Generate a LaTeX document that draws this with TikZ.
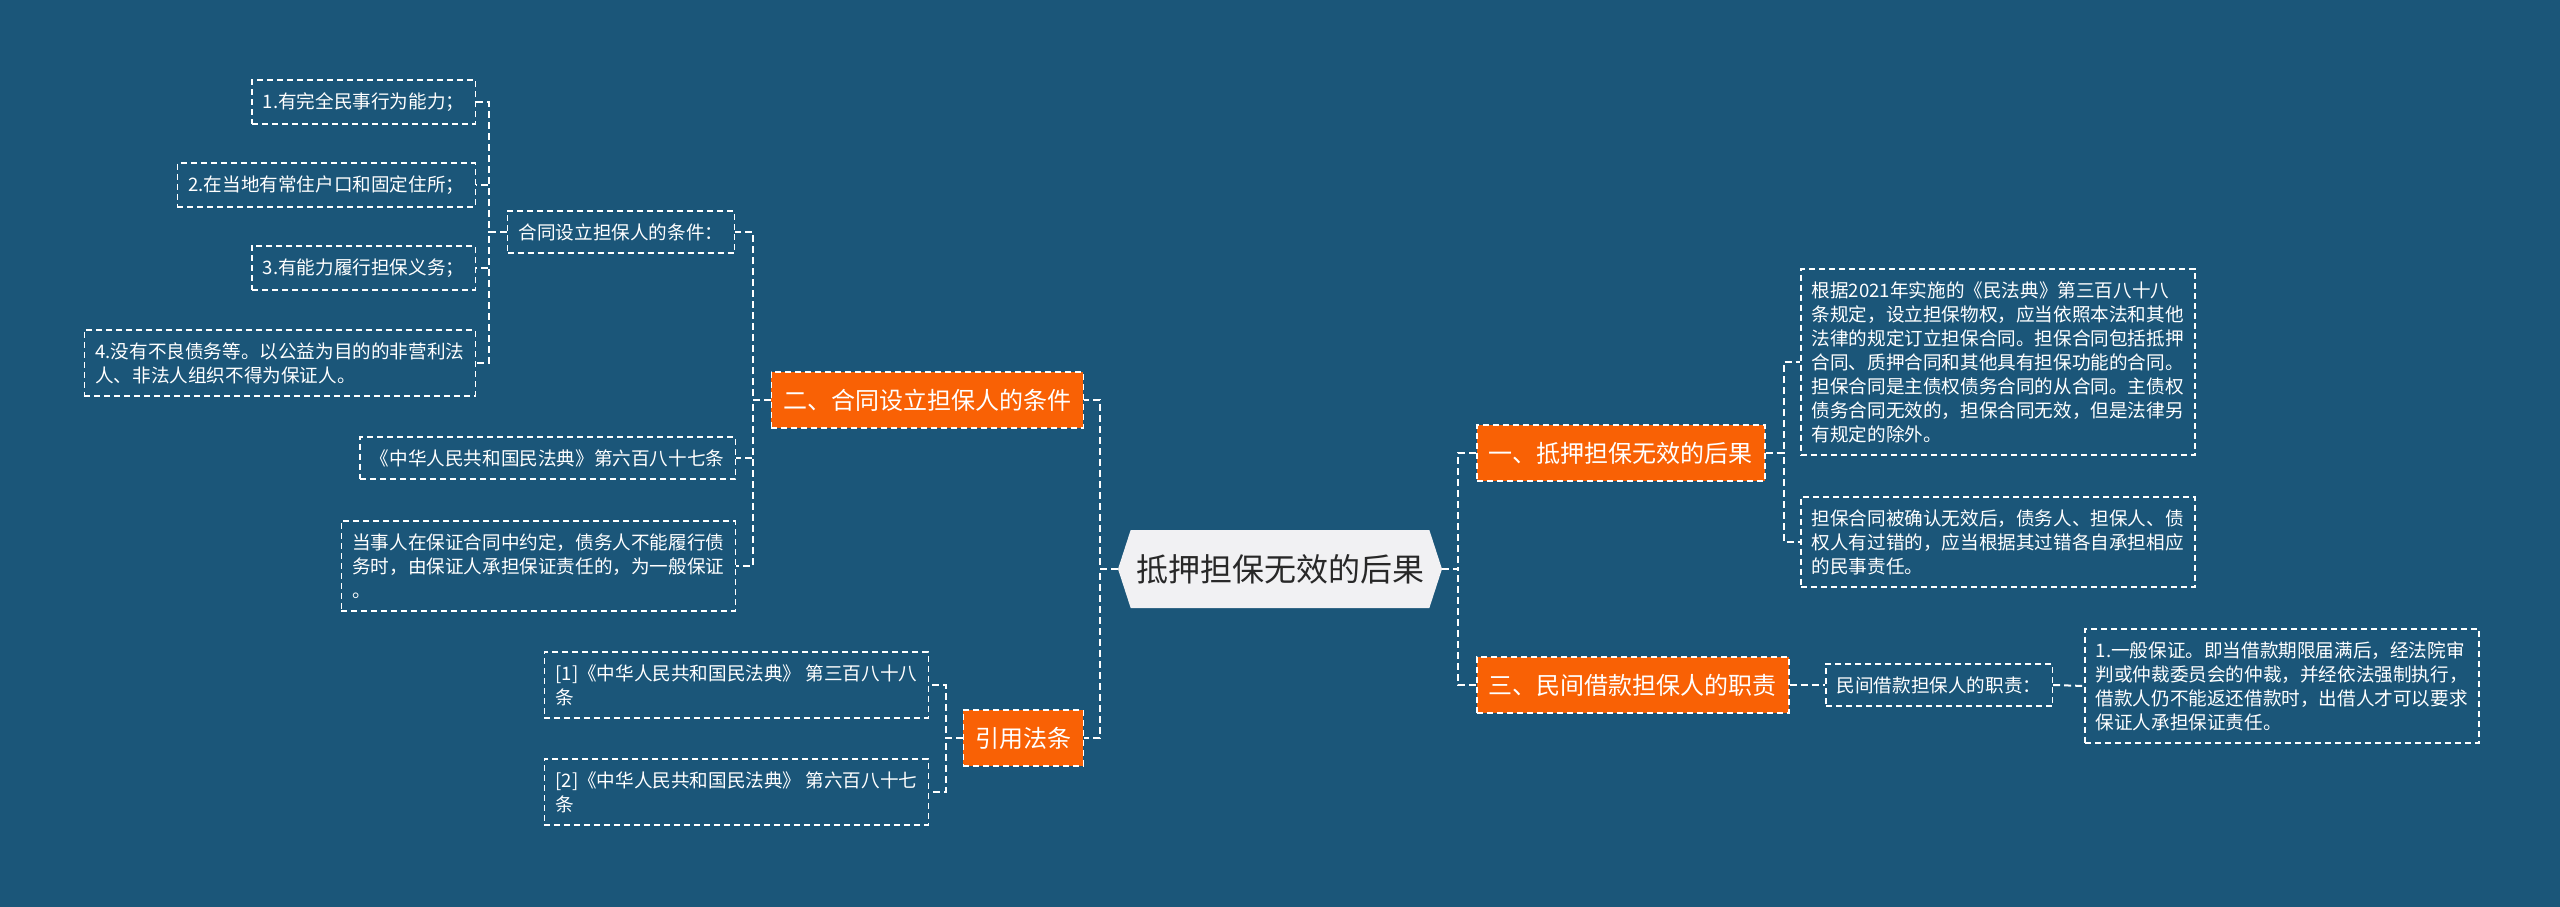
\documentclass[tikz,border=0pt]{standalone}
\usepackage{fontspec}
\newfontfamily\cjk{Noto Sans CJK SC}
\usetikzlibrary{positioning, shapes.symbols}
\definecolor{bgblue}{RGB}{27,86,121}
\definecolor{topicorange}{RGB}{249,97,5}
\definecolor{hubgray}{RGB}{241,241,243}
\definecolor{hubtext}{RGB}{40,40,40}

\begin{document}
\begin{tikzpicture}[x=1pt, y=-1pt,
    hub/.style={signal, signal to=west and east, signal pointer angle=144, fill=hubgray, text=hubtext, minimum width=324pt, minimum height=78pt, inner sep=0pt, font=\cjk\fontsize{32}{38}\selectfont},
    topic/.style={draw=white, line width=1.5pt, dash pattern=on 6pt off 4pt, fill=topicorange, text=white, minimum height=56pt, inner xsep=12pt, font=\cjk\fontsize{24}{30}\selectfont},
    leaf/.style={draw=white, line width=1.5pt, dash pattern=on 6pt off 4pt, text=white, align=left, inner xsep=11pt, inner ysep=12.5pt, font=\cjk\fontsize{18.6}{24}\selectfont},
    link/.style={draw=white, line width=2pt, dash pattern=on 7pt off 4pt}
]
\path[use as bounding box, fill=bgblue] (0,0) rectangle (2560,907);

% root and main topics
\node[hub] (hub) at (1280,569) {抵押担保无效的后果};
\node[topic, anchor=west] (conseq) at (1476,453) {一、抵押担保无效的后果};
\node[topic, anchor=west] (duty) at (1476,685) {三、民间借款担保人的职责};
\node[topic, anchor=east] (cond) at (1084,400) {二、合同设立担保人的条件};
\node[topic, anchor=east] (cite) at (1084,738) {引用法条};

% right side
\node[leaf, anchor=west] (basis) at (1800,362) {根据2021年实施的《民法典》第三百八十八\\条规定，设立担保物权，应当依照本法和其他\\法律的规定订立担保合同。担保合同包括抵押\\合同、质押合同和其他具有担保功能的合同。\\担保合同是主债权债务合同的从合同。主债权\\债务合同无效的，担保合同无效，但是法律另\\有规定的除外。};
\node[leaf, anchor=west] (fault) at (1800,542) {担保合同被确认无效后，债务人、担保人、债\\权人有过错的，应当根据其过错各自承担相应\\的民事责任。};
\node[leaf, anchor=west] (dutyhead) at (1825,685) {民间借款担保人的职责：};
\node[leaf, anchor=west] (dutyone) at (2084,686) {1.一般保证。即当借款期限届满后，经法院审\\判或仲裁委员会的仲裁，并经依法强制执行，\\借款人仍不能返还借款时，出借人才可以要求\\保证人承担保证责任。};

% left side
\node[leaf, anchor=east] (condhead) at (735,232) {合同设立担保人的条件：};
\node[leaf, anchor=east] (art687) at (736,458) {《中华人民共和国民法典》第六百八十七条};
\node[leaf, anchor=east] (general) at (736,566) {当事人在保证合同中约定，债务人不能履行债\\务时，由保证人承担保证责任的，为一般保证\\。};
\node[leaf, anchor=east] (cond1) at (476,102) {1.有完全民事行为能力；};
\node[leaf, anchor=east] (cond2) at (476,185) {2.在当地有常住户口和固定住所；};
\node[leaf, anchor=east] (cond3) at (476,268) {3.有能力履行担保义务；};
\node[leaf, anchor=east] (cond4) at (476,363) {4.没有不良债务等。以公益为目的的非营利法\\人、非法人组织不得为保证人。};
\node[leaf, anchor=east] (cite1) at (929,685) {[1]《中华人民共和国民法典》 第三百八十八\\条};
\node[leaf, anchor=east] (cite2) at (929,792) {[2]《中华人民共和国民法典》 第六百八十七\\条};

% connectors
\foreach \t in {cond,cite} \draw[link] (hub.west) -- ++(-18,0) |- (\t.east);
\foreach \t in {conseq,duty} \draw[link] (hub.east) -- ++(16,0) |- (\t.west);
\foreach \t in {basis,fault} \draw[link] (conseq.east) -- ++(18,0) |- (\t.west);
\draw[link] (duty.east) -- (dutyhead.west);
\draw[link] (dutyhead.east) -- (dutyone.west);
\foreach \t in {condhead,art687,general} \draw[link] (cond.west) -- ++(-18,0) |- (\t.east);
\foreach \t in {cond1,cond2,cond3,cond4} \draw[link] (condhead.west) -- ++(-18,0) |- (\t.east);
\foreach \t in {cite1,cite2} \draw[link] (cite.west) -- ++(-17,0) |- (\t.east);
\end{tikzpicture}
\end{document}
